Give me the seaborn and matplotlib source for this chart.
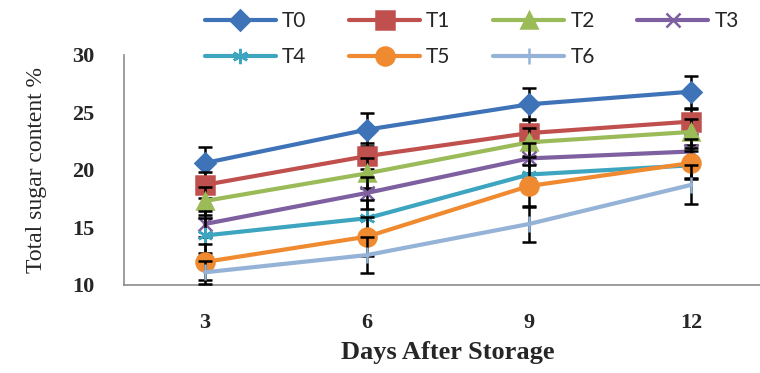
import matplotlib
matplotlib.use("Agg")
import matplotlib.pyplot as plt
import numpy as np
import pandas as pd
import seaborn as sns

# Storage days (categories) and mean total sugar content per treatment
days = ["3", "6", "9", "12"]
treatments = ["T0", "T1", "T2", "T3", "T4", "T5", "T6"]

t0 = [20.6, 23.5, 25.7, 26.8]
t1 = [18.7, 21.2, 23.2, 24.2]
t2 = [17.3, 19.7, 22.4, 23.3]
t3 = [15.3, 18.0, 21.0, 21.6]
t4 = [14.3, 15.8, 19.6, 20.4]
t5 = [12.0, 14.2, 18.6, 20.6]
t6 = [11.1, 12.6, 15.3, 18.7]

# Error bar half-widths
e0 = [1.35, 1.45, 1.40, 1.40]
e1 = [1.15, 1.10, 1.20, 1.10]
e2 = [1.20, 1.30, 1.20, 1.10]
e3 = [1.10, 1.40, 1.30, 1.10]
e4 = [1.50, 1.60, 1.50, 1.20]
e5 = [1.60, 1.70, 1.80, 1.30]
e6 = [1.00, 1.60, 1.60, 1.70]

y_ticks = [10, 15, 20, 25, 30]

means = [t0, t1, t2, t3, t4, t5, t6]
errs = [e0, e1, e2, e3, e4, e5, e6]

colors = ["#3F73B8", "#C0504D", "#9BBB59", "#7E5FA0", "#3DA5BF", "#F08A30", "#95B3D7"]
markers = ["D", "s", "^", "x", (6, 2, 0), "o", "|"]
msizes = [10, 13, 12, 10, 11, 13, 11]

sns.set_style("white")
plt.rcParams["font.family"] = ["Liberation Serif", "DejaVu Serif"]

fig = plt.figure(figsize=(7.6, 3.73), dpi=100)
ax = fig.add_axes([0.163, 0.236, 0.853, 0.617])

pos = np.arange(len(days))
for i, name in enumerate(treatments):
    df = pd.DataFrame({"pos": pos, "value": means[i]})
    ax.errorbar(pos, means[i], yerr=errs[i], fmt="none", ecolor="black",
                elinewidth=1.8, capsize=5, capthick=1.8, zorder=2 + 2 * i)
    sns.lineplot(data=df, x="pos", y="value", ax=ax, color=colors[i],
                 marker=markers[i], markersize=msizes[i], linewidth=3.0,
                 markeredgecolor=colors[i], markeredgewidth=1.8,
                 label=name, zorder=3 + 2 * i, legend=False)

ax.set_xlim(-0.5, len(days) - 0.5)
ax.set_ylim(10, 30)
ax.set_yticks(y_ticks)
ax.set_yticklabels([str(v) for v in y_ticks], fontsize=16, fontweight="bold")
ax.set_xticks(pos)
ax.set_xticklabels(days, fontsize=16, fontweight="bold")
ax.set_xticks(np.arange(len(days)) - 0.5, minor=True)
ax.tick_params(axis="x", which="major", length=0, pad=20)
ax.tick_params(axis="x", which="minor", length=6, width=1, color="#8c8c8c", direction="out")
ax.tick_params(axis="y", which="major", length=7, width=1, color="#8c8c8c", direction="out", pad=14)

for side in ["top", "right"]:
    ax.spines[side].set_visible(False)
for side in ["left", "bottom"]:
    ax.spines[side].set_color("#8c8c8c")
    ax.spines[side].set_linewidth(1.2)

ax.set_xlabel("Days After Storage", fontsize=19, fontweight="bold", labelpad=6)
ax.set_ylabel("Total sugar content %", fontsize=17, labelpad=18)

# Legend laid out row by row: T0-T3 on top, T4-T6 beneath
handles, labels = ax.get_legend_handles_labels()
order = [0, 4, 1, 5, 2, 6, 3]
leg = fig.legend([handles[k] for k in order], [labels[k] for k in order],
                 loc="upper left", bbox_to_anchor=(0.245, 1.02),
                 ncol=4, frameon=False, handlelength=3.4, columnspacing=2.05,
                 handletextpad=0.3, labelspacing=0.75,
                 prop={"family": "Lato", "size": 15})

fig.savefig("out.png", dpi=100)
